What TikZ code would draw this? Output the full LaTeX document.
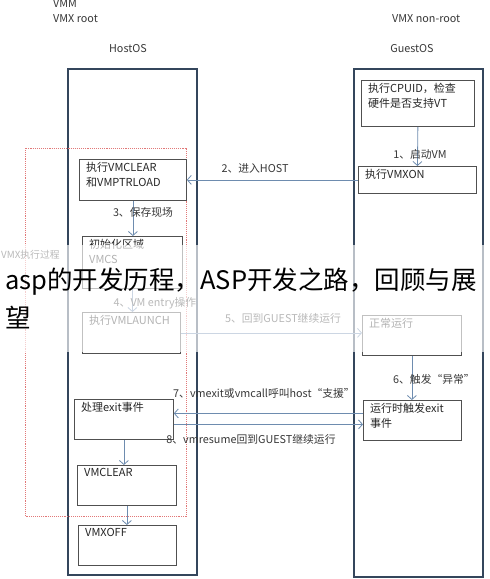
\documentclass[tikz,border=0pt]{standalone}
\usepackage{fontspec}
\setmainfont{Noto Sans CJK SC}
\usetikzlibrary{arrows.meta}
\definecolor{osline}{RGB}{52,70,92}
\definecolor{boxline}{RGB}{80,80,80}
\definecolor{flowline}{RGB}{110,140,175}
\definecolor{redline}{RGB}{225,120,120}
\definecolor{tagtext}{RGB}{55,55,55}

\begin{document}
\begin{tikzpicture}[x=1pt,y=-1pt,
  osbox/.style={draw=osline,line width=2.2pt,anchor=north west,minimum width=129,inner sep=0},
  stepbox/.style={draw=boxline,line width=0.8pt,anchor=north west,inner sep=0},
  steptext/.style={anchor=north west,align=left,inner xsep=7pt,inner ysep=3pt,font=\fontsize{11}{15}\selectfont,text=black!85},
  flow/.style={draw=flowline,line width=0.8pt,-{Straight Barb[length=4pt,width=9pt]}},
  tag/.style={font=\fontsize{10.8}{12}\selectfont,text=tagtext,inner sep=1pt}]
\useasboundingbox (0,0) rectangle (490,579);
\node[tag,anchor=west] (vmm) at (52,4) {VMM};
\node[tag,anchor=west] (root) at (52,19) {VMX root};
\node[tag,anchor=west] (nonroot) at (391,19) {VMX non-root};
\node[tag] (hostname) at (128,49) {HostOS};
\node[tag] (guestname) at (412,49) {GuestOS};
\node[osbox,minimum height=506] (host) at (67,68) {};
\node[osbox,minimum height=508] (guest) at (353,68) {};
\draw[redline,densely dotted,line width=.9pt] (25,148) rectangle (186,516);
\node[tag,anchor=west,font=\fontsize{9.8}{12}\selectfont] (vmxrun) at (0,255) {VMX执行过程};
\node[stepbox,minimum width=113,minimum height=46,label={[steptext]north west:执行CPUID，检查\\硬件是否支持VT}] (cpuid) at (361,80) {};
\node[stepbox,minimum width=118,minimum height=27,label={[steptext]north west:执行VMXON}] (vmxon) at (358,166) {};
\node[stepbox,minimum width=107,minimum height=41,label={[steptext]north west:执行VMCLEAR\\和VMPTRLOAD}] (vmptr) at (79,159) {};
\node[stepbox,minimum width=100,minimum height=52,label={[steptext]north west:初始化区域\\VMCS}] (vmcs) at (82,236) {};
\node[stepbox,minimum width=98,minimum height=41,label={[steptext]north west:执行VMLAUNCH}] (launch) at (82,312) {};
\node[stepbox,minimum width=99,minimum height=40,label={[steptext]north west:正常运行}] (normal) at (362,315) {};
\node[stepbox,minimum width=98,minimum height=40,label={[steptext]north west:运行时触发exit\\事件}] (trigger) at (363,400) {};
\node[stepbox,minimum width=99,minimum height=40,label={[steptext]north west:处理exit事件}] (handle) at (74,399) {};
\node[stepbox,minimum width=99,minimum height=40,label={[steptext]north west:VMCLEAR}] (clear) at (77,465) {};
\node[stepbox,minimum width=98,minimum height=40,label={[steptext]north west:VMXOFF}] (off) at (78,525) {};
\draw[flow] (cpuid.south) -- (vmxon.north);
\draw[flow] (vmxon.west) -- (vmxon.west -| vmptr.east);
\draw[flow] (vmptr.south) -- (vmptr.south |- vmcs.north);
\draw[flow] (vmcs.south) -- (vmcs.south |- launch.north);
\draw[flow] (launch.east) -- (launch.east -| normal.west);
\draw[flow] (normal.south) -- (normal.south |- trigger.north);
\draw[flow] ([yshift=7pt]trigger.west) -- ([yshift=7pt]trigger.west -| handle.east);
\draw[flow] ([yshift=-5pt]handle.east) -- ([yshift=-5pt]handle.east -| trigger.west);
\draw[flow] (handle.south) -- (handle.south |- clear.north);
\draw[flow] (clear.south) -- (clear.south |- off.north);
\node[tag] (t1) at (420,154) {1、启动VM};
\node[tag] (t2) at (255,168) {2、进入HOST};
\node[tag] (t3) at (143,212) {3、保存现场};
\node[tag] (t4) at (155,303) {4、VM entry操作};
\node[tag] (t5) at (283,318) {5、回到GUEST继续运行};
\node[tag] (t6) at (434,379) {6、触发“异常”};
\node[tag] (t7) at (264,393) {7、vmexit或vmcall呼叫host“支援”};
\node[tag] (t8) at (251,439) {8、vmresume回到GUEST继续运行};
\fill[white,opacity=.65] (0,245) rectangle (490,352);
\node[anchor=north west,align=left,inner sep=0,font=\fontsize{25.5}{38}\selectfont] (title) at (5,268) {asp的开发历程，ASP开发之路，回顾与展\\望};
\end{tikzpicture}
\end{document}
